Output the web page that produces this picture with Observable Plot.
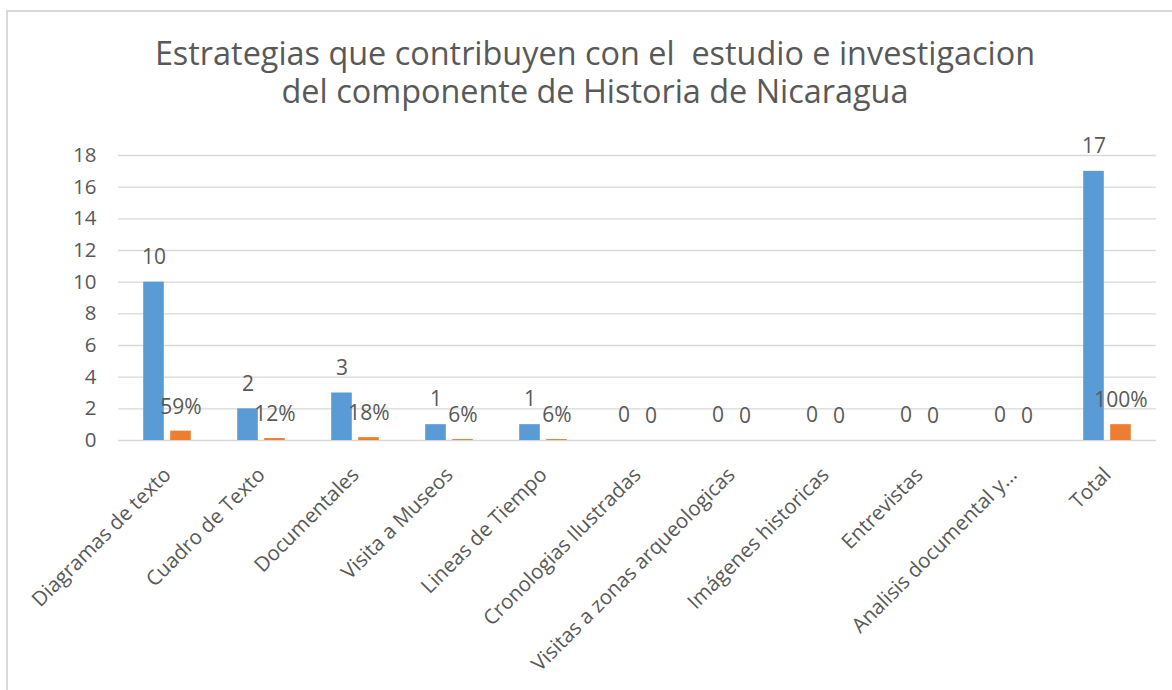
<!DOCTYPE html>
<html>
<head>
<meta charset="utf-8">
<script src="https://cdn.jsdelivr.net/npm/d3@7"></script>
<script src="https://cdn.jsdelivr.net/npm/@observablehq/plot@0.6"></script>
<style>
  html, body { margin: 0; padding: 0; background: #fff; }
  body { width: 1172px; height: 690px; position: relative; overflow: hidden; font-family: "Open Sans", Lato, sans-serif; }
  #frame { position: absolute; left: 6px; top: 10px; width: 1200px; height: 720px; border-left: 2px solid #d9d9d9; border-top: 2px solid #d9d9d9; box-sizing: border-box; }
  #title { position: absolute; left: 0; top: 33px; width: 1190px; text-align: center; font-size: 32.4px; line-height: 38px; color: #595959; white-space: pre; }
  #chart { position: absolute; left: 0; top: 130px; }
</style>
</head>
<body>
<div id="frame"></div>
<div id="title">Estrategias que contribuyen con el  estudio e investigacion
del componente de Historia de Nicaragua</div>
<div id="chart"></div>
<script>
const categories = ["Diagramas de texto", "Cuadro de Texto", "Documentales", "Visita a Museos", "Lineas de Tiempo", "Cronologias Ilustradas", "Visitas a zonas arqueologicas", "Imágenes historicas", "Entrevistas", "Analisis documental y...", "Total"];
const counts = [10, 2, 3, 1, 1, 0, 0, 0, 0, 0, 17];
const shares = [0.59, 0.12, 0.18, 0.06, 0.06, 0, 0, 0, 0, 0, 1];
const yTicks = [0, 2, 4, 6, 8, 10, 12, 14, 16, 18];

const countData = categories.map((c, i) => ({cat: c, v: counts[i], label: String(counts[i])}));
const shareData = categories.map((c, i) => ({cat: c, v: shares[i], label: shares[i] === 0 ? "0" : d3.format(".0%")(shares[i])}));

const blue = "#5B9BD5", orange = "#ED7D31", textColor = "#595959";

const chart = Plot.plot({
  width: 1172,
  height: 560,
  marginLeft: 118,
  marginRight: 16,
  marginTop: 25,
  marginBottom: 250,
  style: {fontFamily: "'Open Sans', Lato, sans-serif", fontSize: "20px", color: textColor, background: "transparent"},
  x: {domain: categories, padding: 0, label: null},
  y: {domain: [0, 18], label: null},
  marks: [
    Plot.ruleY(yTicks, {stroke: "#d9d9d9", strokeWidth: 1.3}),
    Plot.axisY({ticks: yTicks, tickSize: 0, tickPadding: 22, fontSize: 20.5, label: null}),
    Plot.axisX({tickSize: 0, tickPadding: 31, tickRotate: -45, fontSize: 20.5, label: null}),
    Plot.barY(countData, {x: "cat", y: "v", fill: blue, insetLeft: 23.2, insetRight: 50.2}),
    Plot.barY(shareData, {x: "cat", y: "v", fill: orange, insetLeft: 50.2, insetRight: 23.2}),
    Plot.text(countData, {x: "cat", y: "v", text: "label", dx: -13.5, dy: -25, fill: textColor, fontSize: 21}),
    Plot.text(shareData, {x: "cat", y: "v", text: "label", dx: 13.5, dy: -24, fill: textColor, fontSize: 21})
  ]
});
document.getElementById("chart").appendChild(chart);
</script>
</body>
</html>
